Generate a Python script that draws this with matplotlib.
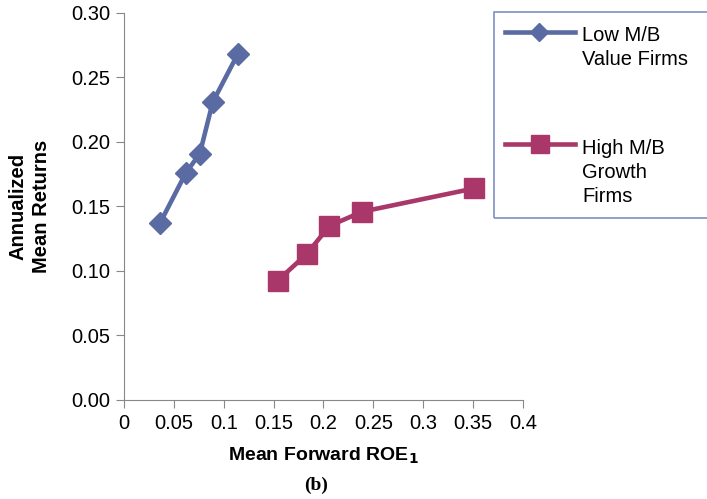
import matplotlib.pyplot as plt
from matplotlib.lines import Line2D
from matplotlib.patches import Rectangle

plt.rcParams['font.family'] = ['Liberation Sans', 'DejaVu Sans']

# Mean forward ROE vs annualized mean returns
low_roe = [0.036, 0.062, 0.076, 0.089, 0.114]
low_ret = [0.137, 0.176, 0.191, 0.231, 0.268]
high_roe = [0.154, 0.183, 0.206, 0.239, 0.351]
high_ret = [0.0925, 0.113, 0.135, 0.146, 0.164]

BLUE = '#5a6ba3'
MAGENTA = '#aa3769'
GRAY = '#888888'

fig = plt.figure(figsize=(7.07, 4.99), dpi=100)
ax = fig.add_axes([0.1754, 0.1984, 0.5643, 0.7756])

ax.plot(low_roe, low_ret, color=BLUE, lw=3.3, marker='D', ms=11.5, zorder=3)
ax.plot(high_roe, high_ret, color=MAGENTA, lw=3.3, marker='s', ms=15, zorder=3)

ax.set_xlim(0, 0.4)
ax.set_ylim(0, 0.30)
ax.set_xticks([0, 0.05, 0.1, 0.15, 0.2, 0.25, 0.3, 0.35, 0.4])
ax.set_xticklabels(['0', '0.05', '0.1', '0.15', '0.2', '0.25', '0.3', '0.35', '0.4'])
ax.set_yticks([0, 0.05, 0.1, 0.15, 0.2, 0.25, 0.3])
ax.set_yticklabels(['0.00', '0.05', '0.10', '0.15', '0.20', '0.25', '0.30'])
ax.tick_params(direction='out', length=6, color=GRAY, labelsize=14.5, pad=4)
for side in ['top', 'right']:
    ax.spines[side].set_visible(False)
for side in ['left', 'bottom']:
    ax.spines[side].set_color(GRAY)

ax.set_xlabel('Mean Forward ROE$_\\mathbf{1}$', fontsize=14, fontweight='bold', va='center')
ax.xaxis.set_label_coords(0.5, -0.145)
ax.set_ylabel('Annualized\nMean Returns', fontsize=14.5, fontweight='bold', va='center',
              linespacing=1.25)
ax.yaxis.set_label_coords(-0.236, 0.5)

fig.text(316 / 707, 1 - 485 / 499, '(b)', family='Liberation Serif', fontsize=14,
         fontweight='bold', ha='center', va='center')

# legend drawn by hand in figure pixels
W, H = 707, 499
def fx(px):
    return px / W
def fy(py):
    return 1 - py / H

fig.add_artist(Rectangle((fx(494), fy(218)), fx(260), fy(12) - fy(218),
                         transform=fig.transFigure, fill=False,
                         edgecolor='#8090c0', lw=1.2))
fig.add_artist(Line2D([fx(505), fx(575)], [fy(32), fy(32)], transform=fig.transFigure,
                      color=BLUE, lw=3.3))
fig.add_artist(Line2D([fx(539)], [fy(32)], transform=fig.transFigure,
                      color=BLUE, marker='D', ms=9.5, lw=0))
fig.add_artist(Line2D([fx(505), fx(575)], [fy(144), fy(144)], transform=fig.transFigure,
                      color=MAGENTA, lw=3.3))
fig.add_artist(Line2D([fx(540)], [fy(144)], transform=fig.transFigure,
                      color=MAGENTA, marker='s', ms=13, lw=0))

legend_lines = [('Low M/B', 41), ('Value Firms', 65),
                ('High M/B', 154), ('Growth', 178), ('Firms', 202)]
for txt, base in legend_lines:
    fig.text(fx(582), fy(base), txt, fontsize=14.5, va='baseline')

fig.savefig('out.png', dpi=100)
